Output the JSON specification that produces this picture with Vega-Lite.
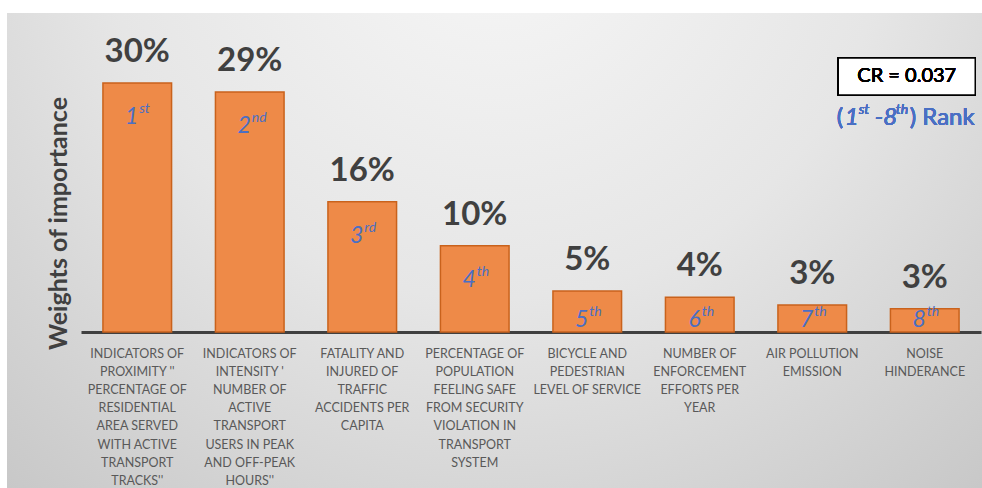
{
  "$schema": "https://vega.github.io/schema/vega-lite/v6.json",
  "autosize": "none",
  "width": 975,
  "height": 475,
  "padding": {"left": 7, "top": 13, "right": 0, "bottom": 0},
  "background": "#ffffff",
  "config": {
    "font": "Lato",
    "view": {
      "stroke": null,
      "fill": {
        "gradient": "radial",
        "x1": 0.5, "y1": 0.15, "r1": 0,
        "x2": 0.5, "y2": 0.15, "r2": 0.8,
        "stops": [
          {"offset": 0, "color": "#f7f7f7"},
          {"offset": 0.5, "color": "#e6e6e6"},
          {"offset": 1, "color": "#c6c6c6"}
        ]
      }
    }
  },
  "data": {
    "values": [
      {"cat": "INDICATORS OF|PROXIMITY ''|PERCENTAGE OF|RESIDENTIAL|AREA SERVED|WITH ACTIVE|TRANSPORT|TRACKS''", "value": 30.0, "pct": "30%", "n": "1", "sup": "st"},
      {"cat": "INDICATORS OF|INTENSITY '|NUMBER OF|ACTIVE|TRANSPORT|USERS IN PEAK|AND OFF-PEAK|HOURS''", "value": 28.9, "pct": "29%", "n": "2", "sup": "nd"},
      {"cat": "FATALITY AND|INJURED OF|TRAFFIC|ACCIDENTS PER|CAPITA", "value": 15.7, "pct": "16%", "n": "3", "sup": "rd"},
      {"cat": "PERCENTAGE OF|POPULATION|FEELING SAFE|FROM SECURITY|VIOLATION IN|TRANSPORT|SYSTEM", "value": 10.4, "pct": "10%", "n": "4", "sup": "th"},
      {"cat": "BICYCLE AND|PEDESTRIAN|LEVEL OF SERVICE", "value": 4.95, "pct": "5%", "n": "5", "sup": "th"},
      {"cat": "NUMBER OF|ENFORCEMENT|EFFORTS PER|YEAR", "value": 4.2, "pct": "4%", "n": "6", "sup": "th"},
      {"cat": "AIR POLLUTION|EMISSION", "value": 3.25, "pct": "3%", "n": "7", "sup": "th"},
      {"cat": "NOISE|HINDERANCE", "value": 2.8, "pct": "3%", "n": "8", "sup": "th"}
    ]
  },
  "encoding": {
    "x": {
      "field": "cat",
      "type": "nominal",
      "sort": null,
      "scale": {"range": [74, 974], "paddingInner": 0.39, "paddingOuter": 0.195},
      "axis": {
        "title": null,
        "offset": -156,
        "domainColor": "#404040",
        "domainWidth": 3,
        "ticks": false,
        "labelAngle": 0,
        "labelExpr": "split(datum.value, '|')",
        "labelFont": "Lato",
        "labelFontSize": 12.5,
        "labelColor": "#595959",
        "labelLineHeight": 18.2,
        "labelPadding": 15,
        "labelBaseline": "top",
        "labelLimit": 0,
        "labelOverlap": false
      }
    },
    "y": {
      "field": "value",
      "type": "quantitative",
      "scale": {"domain": [0, 38.43], "range": [319, 0], "nice": false, "zero": true},
      "axis": {
        "title": "Weights of importance",
        "titleFont": "Lato",
        "titleFontSize": 25,
        "titleFontWeight": "bold",
        "titleColor": "#404040",
        "titleX": 51,
        "titleY": 210,
        "titleAlign": "center",
        "titleBaseline": "middle",
        "titleAngle": 270,
        "labels": false,
        "ticks": false,
        "domain": false,
        "grid": false
      }
    }
  },
  "layer": [
    {
      "mark": {"type": "bar", "fill": "#EE8A48", "stroke": "#C9621C", "strokeWidth": 1.5}
    },
    {
      "mark": {"type": "text", "font": "Lato", "fontSize": 33, "fontWeight": "bold", "color": "#404040", "baseline": "alphabetic", "dy": -21},
      "encoding": {"text": {"field": "pct"}}
    },
    {
      "mark": {"type": "text", "font": "Lato", "fontSize": 23, "fontStyle": "italic", "fontWeight": "normal", "color": "#4A6FC4", "align": "right", "baseline": "middle", "dx": 1, "dy": {"expr": "min(34, datum.value*8.3 - 12)"}},
      "encoding": {"text": {"field": "n"}}
    },
    {
      "mark": {"type": "text", "font": "Lato", "fontSize": 14, "fontStyle": "italic", "fontWeight": "normal", "color": "#4A6FC4", "align": "left", "baseline": "middle", "dx": 2, "dy": {"expr": "min(34, datum.value*8.3 - 12) - 8"}},
      "encoding": {"text": {"field": "sup"}}
    },
    {
      "mark": {"type": "bar", "width": 137, "xOffset": -18, "fill": "#ffffff", "stroke": "#000000", "strokeWidth": 1.5},
      "encoding": {"x": {"datum": "NOISE|HINDERANCE", "type": "nominal"}, "y": {"datum": 33.0}, "y2": {"datum": 28.55}}
    },
    {
      "mark": {"type": "text", "font": "Lato", "fontSize": 20, "fontWeight": "normal", "color": "#000000", "baseline": "middle", "dx": -18},
      "encoding": {"x": {"datum": "NOISE|HINDERANCE", "type": "nominal"}, "y": {"datum": 30.8}, "text": {"value": "CR = 0.037"}}
    },
    {
      "mark": {"type": "text", "font": "Lato", "fontSize": 24, "fontWeight": "normal", "color": "#4A6FC4", "align": "left", "baseline": "middle", "dx": -88},
      "encoding": {"x": {"datum": "NOISE|HINDERANCE", "type": "nominal"}, "y": {"datum": 25.8}, "text": {"value": "("}}
    },
    {
      "mark": {"type": "text", "font": "Lato", "fontSize": 24, "fontStyle": "italic", "fontWeight": "normal", "color": "#4A6FC4", "align": "left", "baseline": "middle", "dx": -80},
      "encoding": {"x": {"datum": "NOISE|HINDERANCE", "type": "nominal"}, "y": {"datum": 25.8}, "text": {"value": "1"}}
    },
    {
      "mark": {"type": "text", "font": "Lato", "fontSize": 14, "fontStyle": "italic", "fontWeight": "normal", "color": "#4A6FC4", "align": "left", "baseline": "middle", "dx": -66, "dy": -8},
      "encoding": {"x": {"datum": "NOISE|HINDERANCE", "type": "nominal"}, "y": {"datum": 25.8}, "text": {"value": "st"}}
    },
    {
      "mark": {"type": "text", "font": "Lato", "fontSize": 24, "fontStyle": "italic", "fontWeight": "normal", "color": "#4A6FC4", "align": "left", "baseline": "middle", "dx": -50},
      "encoding": {"x": {"datum": "NOISE|HINDERANCE", "type": "nominal"}, "y": {"datum": 25.8}, "text": {"value": "-8"}}
    },
    {
      "mark": {"type": "text", "font": "Lato", "fontSize": 14, "fontStyle": "italic", "fontWeight": "normal", "color": "#4A6FC4", "align": "left", "baseline": "middle", "dx": -29, "dy": -8},
      "encoding": {"x": {"datum": "NOISE|HINDERANCE", "type": "nominal"}, "y": {"datum": 25.8}, "text": {"value": "th"}}
    },
    {
      "mark": {"type": "text", "font": "Lato", "fontSize": 24, "fontWeight": "normal", "color": "#4A6FC4", "align": "left", "baseline": "middle", "dx": -15},
      "encoding": {"x": {"datum": "NOISE|HINDERANCE", "type": "nominal"}, "y": {"datum": 25.8}, "text": {"value": ") Rank"}}
    }
  ]
}
